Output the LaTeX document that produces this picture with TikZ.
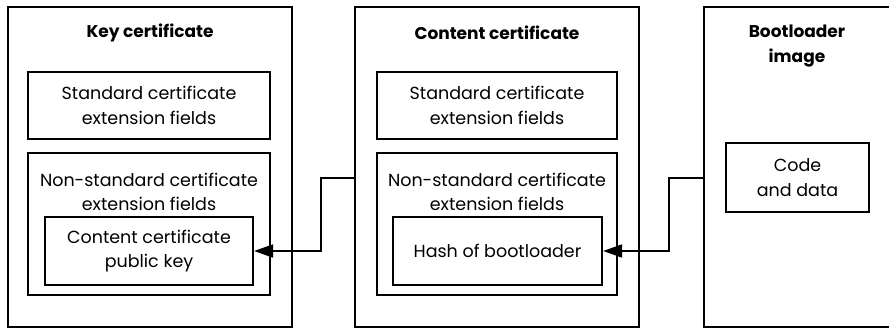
\documentclass[tikz,border=0pt]{standalone}
\usepackage{fontspec}
\setmainfont{Poppins}
\usetikzlibrary{arrows.meta}
\begin{document}
\begin{tikzpicture}[x=1pt,y=1pt,
  box/.style={draw,line width=2.2pt,inner sep=0pt,anchor=center},
  txt/.style={align=center,font=\fontsize{17.5}{24.5}\selectfont,inner sep=0pt},
  ttl/.style={align=center,font=\fontsize{17}{24.5}\selectfont\bfseries,inner sep=0pt},
  conn/.style={line width=2pt,-{Triangle[length=19pt,width=13pt]}}]
\useasboundingbox (0,0) rectangle (889,330);
% Key certificate
\node[box,minimum width=284,minimum height=320] (key) at (150,163) {};
\node[ttl] (keyt) at (150,297) {Key certificate};
\node[box,minimum width=242,minimum height=67] (kstd) at (149,224.5) {};
\node[txt] (kstdt) at (kstd) {Standard certificate\\extension fields};
\node[box,minimum width=242,minimum height=142] (knon) at (149,106) {};
\node[txt] (knont) at (149,138) {Non-standard certificate\\extension fields};
\node[box,minimum width=208,minimum height=68] (kpub) at (149,79) {};
\node[txt] (kpubt) at (kpub) {Content certificate\\public key};
% Content certificate
\node[box,minimum width=284,minimum height=320] (content) at (497,163) {};
\node[ttl] (contentt) at (497,297) {Content certificate};
\node[box,minimum width=240,minimum height=67] (cstd) at (497,224.5) {};
\node[txt] (cstdt) at (cstd) {Standard certificate\\extension fields};
\node[box,minimum width=240,minimum height=142] (cnon) at (497,106) {};
\node[txt] (cnont) at (497,138) {Non-standard certificate\\extension fields};
\node[box,minimum width=209,minimum height=68] (hash) at (497.5,79) {};
\node[txt] (hasht) at (hash) {Hash of bootloader};
% Bootloader image
\node[box,minimum width=200,minimum height=320] (boot) at (804,163) {};
\node[ttl] (boott) at (797,284) {Bootloader\\image};
\node[box,minimum width=143,minimum height=69] (code) at (797.5,152.5) {};
\node[txt] (codet) at (code) {Code\\and data};
% connectors
\draw[conn] (code -| boot.west) -- ++(-34,0) |- (hash.east);
\draw[conn] (code -| content.west) -- ++(-33,0) |- (kpub.east);
\end{tikzpicture}
\end{document}
